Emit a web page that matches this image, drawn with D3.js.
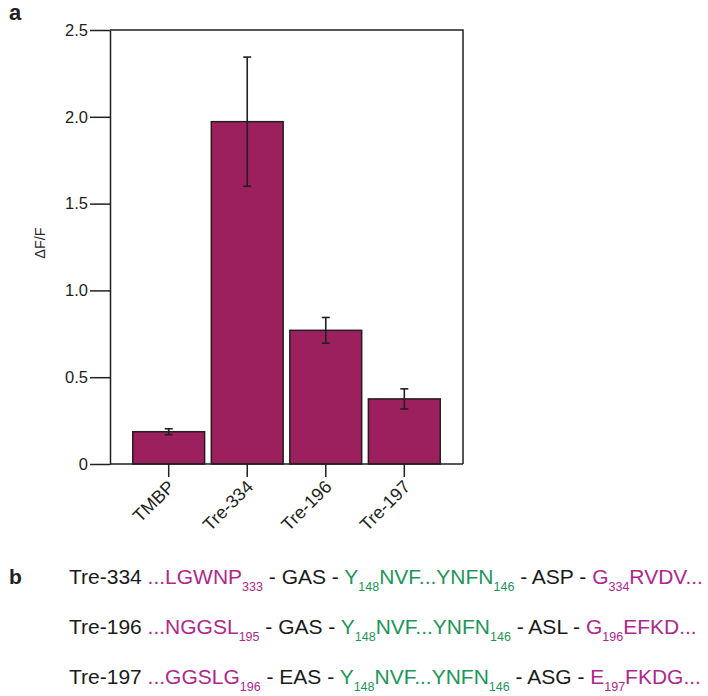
<!DOCTYPE html>
<html>
<head>
<meta charset="utf-8">
<script src="https://cdn.jsdelivr.net/npm/d3@7"></script>
<style>
  body { margin: 0; background: #fff; }
  svg { font-family: 'Liberation Sans', Arial, sans-serif; }
</style>
</head>
<body>
<svg id="chart" width="708" height="696"></svg>
<script>
// panel a data
const constructs = ['TMBP', 'Tre-334', 'Tre-196', 'Tre-197'];
const dff = [0.186, 1.972, 0.770, 0.375];
const dffErr = [0.017, 0.372, 0.074, 0.058];
const yTicks = [0, 0.5, 1.0, 1.5, 2.0, 2.5];

// panel b data: each segment is [text, subscript, colour key]
const seqNames = ['Tre-334', 'Tre-196', 'Tre-197'];
const seqSegments = [
  [['...LGWNP', '333', 'm'], [' - GAS - ', '', 'k'], ['Y', '148', 'g'], ['NVF...YNFN', '146', 'g'],
   [' - ASP - ', '', 'k'], ['G', '334', 'm'], ['RVDV...', '', 'm']],
  [['...NGGSL', '195', 'm'], [' - GAS - ', '', 'k'], ['Y', '148', 'g'], ['NVF...YNFN', '146', 'g'],
   [' - ASL - ', '', 'k'], ['G', '196', 'm'], ['EFKD...', '', 'm']],
  [['...GGSLG', '196', 'm'], [' - EAS - ', '', 'k'], ['Y', '148', 'g'], ['NVF...YNFN', '146', 'g'],
   [' - ASG - ', '', 'k'], ['E', '197', 'm'], ['FKDG...', '', 'm']]
];

const colors = { m: '#b0278b', g: '#1c9658', k: '#1a1a1a' };
const barColor = '#9c1f5e';
const ink = '#231f20';

const svg = d3.select('#chart');

// plot area
const plotL = 110, plotR = 463, plotT = 30, plotB = 464;

const x = d3.scaleBand()
  .domain(constructs)
  .range([plotL, plotR])
  .paddingInner(0.085)
  .paddingOuter(0.29);

const y = d3.scaleLinear()
  .domain([0, 2.5])
  .range([plotB, plotT]);

const g = svg.append('g');

// bars
g.selectAll('.bar')
  .data(constructs)
  .enter().append('rect')
    .attr('class', 'bar')
    .attr('x', d => x(d))
    .attr('y', (d, i) => y(dff[i]))
    .attr('width', x.bandwidth())
    .attr('height', (d, i) => y(0) - y(dff[i]))
    .attr('fill', barColor)
    .attr('stroke', ink)
    .attr('stroke-width', 1.5);

// error bars
const eb = g.selectAll('.err')
  .data(constructs)
  .enter().append('g')
    .attr('class', 'err')
    .attr('stroke', ink)
    .attr('stroke-width', 1.6);

eb.append('line')
  .attr('x1', d => x(d) + x.bandwidth() / 2)
  .attr('x2', d => x(d) + x.bandwidth() / 2)
  .attr('y1', (d, i) => y(dff[i] - dffErr[i]))
  .attr('y2', (d, i) => y(dff[i] + dffErr[i]));

[-1, 1].forEach(s => {
  eb.append('line')
    .attr('x1', d => x(d) + x.bandwidth() / 2 - 4)
    .attr('x2', d => x(d) + x.bandwidth() / 2 + 4)
    .attr('y1', (d, i) => y(dff[i] + s * dffErr[i]))
    .attr('y2', (d, i) => y(dff[i] + s * dffErr[i]));
});

// frame: top and right sides
g.append('path')
  .attr('d', `M${plotL},${plotT}H${plotR}V${plotB}`)
  .attr('fill', 'none')
  .attr('stroke', ink)
  .attr('stroke-width', 1.5);

// y axis
const yAxis = g.append('g')
  .attr('transform', `translate(${plotL},0)`)
  .call(d3.axisLeft(y)
    .tickValues(yTicks)
    .tickSize(20)
    .tickSizeOuter(0)
    .tickPadding(2)
    .tickFormat(d => d === 0 ? '0' : d3.format('.1f')(d)));

yAxis.selectAll('path, line').attr('stroke', ink).attr('stroke-width', 1.5);
yAxis.selectAll('text')
  .attr('fill', ink)
  .attr('font-size', 16.5)
  .attr('font-family', 'Liberation Sans, Arial, sans-serif');

// x axis
const xAxis = g.append('g')
  .attr('transform', `translate(0,${plotB})`)
  .call(d3.axisBottom(x).tickSize(13).tickSizeOuter(0));

xAxis.select('.domain')
  .attr('d', `M${plotL},0H${plotR}`)
  .attr('stroke', ink)
  .attr('stroke-width', 1.5);
xAxis.selectAll('line').attr('stroke', ink).attr('stroke-width', 1.5);
xAxis.selectAll('text')
  .attr('fill', ink)
  .attr('font-size', 18)
  .attr('font-family', 'Liberation Sans, Arial, sans-serif')
  .attr('text-anchor', 'end')
  .attr('dy', null)
  .attr('y', 0)
  .attr('transform', 'translate(7,24) rotate(-45)');

// y label
g.append('text')
  .attr('transform', `translate(45,243) rotate(-90)`)
  .attr('text-anchor', 'middle')
  .attr('font-size', 14.5)
  .attr('fill', '#2a2a2a')
  .text('\u0394F/F');

// panel letters
svg.append('text')
  .attr('x', 9).attr('y', 20)
  .attr('font-size', 22).attr('font-weight', 'bold')
  .attr('fill', ink)
  .text('a');

svg.append('text')
  .attr('x', 9).attr('y', 584)
  .attr('font-size', 21).attr('font-weight', 'bold')
  .attr('fill', ink)
  .text('b');

// panel b sequences
const rowY = d3.scalePoint()
  .domain(seqNames)
  .range([584, 684]);

const rows = svg.selectAll('.seq')
  .data(seqNames)
  .enter().append('text')
    .attr('class', 'seq')
    .attr('x', 69)
    .attr('y', d => rowY(d))
    .attr('font-size', 21)
    .attr('fill', colors.k);

const subShift = 7;

rows.each(function(name, i) {
  const t = d3.select(this);
  t.append('tspan').text(name + ' ');
  let lowered = false;
  seqSegments[i].forEach(([txt, sub, c]) => {
    const main = t.append('tspan').attr('fill', colors[c]).text(txt);
    if (lowered) { main.attr('dy', -subShift); lowered = false; }
    if (sub) {
      t.append('tspan')
        .attr('fill', colors[c])
        .attr('font-size', 12.5)
        .attr('dy', subShift)
        .text(sub);
      lowered = true;
    }
  });
});
</script>
</body>
</html>
